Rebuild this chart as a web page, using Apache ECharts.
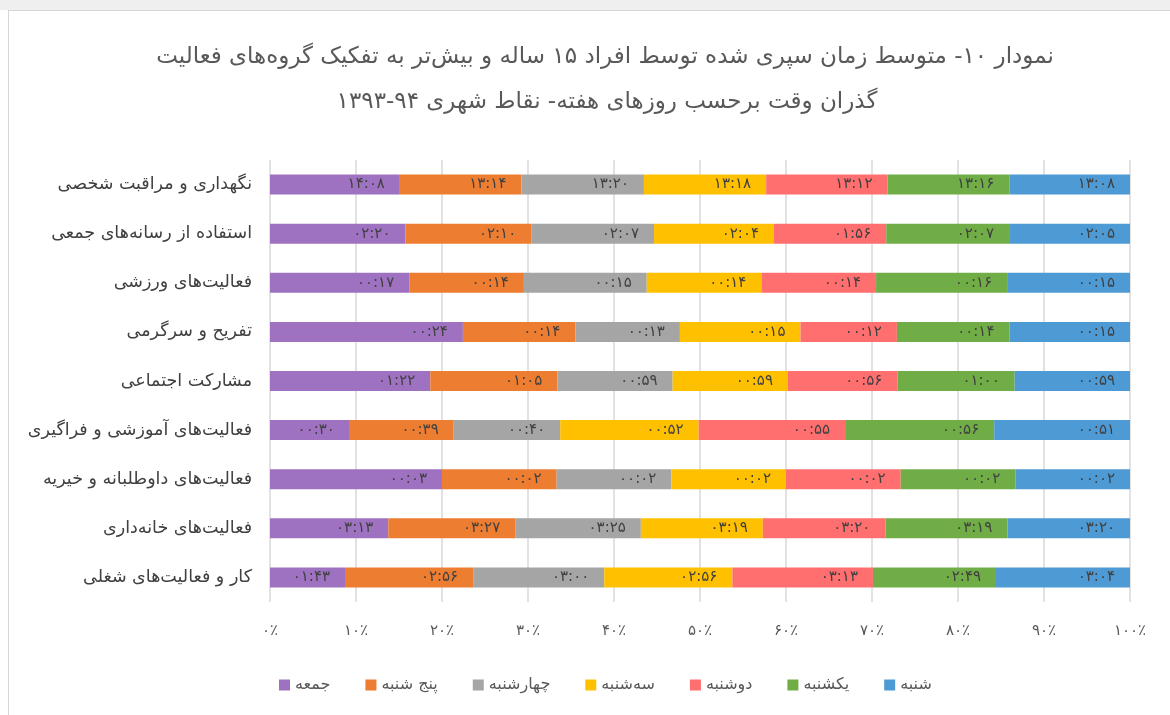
<!DOCTYPE html>
<html>
<head>
<meta charset="utf-8">
<script src="https://cdn.jsdelivr.net/npm/echarts@6/dist/echarts.min.js"></script>
<style>
html,body{margin:0;padding:0;background:#fff;}
#top{position:absolute;left:0;top:0;width:1170px;height:10px;background:#efefef;}
#frame{position:absolute;left:8px;top:10px;width:1170px;height:720px;border-left:1px solid #d6d6d6;border-top:1px solid #d6d6d6;}
#main{position:absolute;left:0;top:0;width:1170px;height:715px;}
</style>
</head>
<body>
<div id="top"></div>
<div id="frame"></div>
<div id="main"></div>
<script>
const categories = [
  'نگهداری و مراقبت شخصی',
  'استفاده از رسانه‌های جمعی',
  'فعالیت‌های ورزشی',
  'تفریح و سرگرمی',
  'مشارکت اجتماعی',
  'فعالیت‌های آموزشی و فراگیری',
  'فعالیت‌های داوطلبانه و خیریه',
  'فعالیت‌های خانه‌داری',
  'کار و فعالیت‌های شغلی'
];
const seriesNames = ['جمعه', 'پنج شنبه', 'چهارشنبه', 'سه‌شنبه', 'دوشنبه', 'یکشنبه', 'شنبه'];
const seriesColors = ['#9e72c0', '#ed7d31', '#a5a5a5', '#ffc000', '#ff6f6f', '#70ad47', '#4e9ad4'];
// times (hh:mm) per series, in category order
const friday    = ['14:08','02:20','00:17','00:24','01:22','00:30','00:03','03:13','01:43'];
const thursday  = ['13:14','02:10','00:14','00:14','01:05','00:39','00:02','03:27','02:56'];
const wednesday = ['13:20','02:07','00:15','00:13','00:59','00:40','00:02','03:25','03:00'];
const tuesday   = ['13:18','02:04','00:14','00:15','00:59','00:52','00:02','03:19','02:56'];
const monday    = ['13:12','01:56','00:14','00:12','00:56','00:55','00:02','03:20','03:13'];
const sunday    = ['13:16','02:07','00:16','00:14','01:00','00:56','00:02','03:19','02:49'];
const saturday  = ['13:08','02:05','00:15','00:15','00:59','00:51','00:02','03:20','03:04'];
const titleLine1 = 'نمودار ۱۰- متوسط زمان سپری شده توسط افراد ۱۵ ساله و بیش‌تر به تفکیک گروه‌های فعالیت';
const titleLine2 = 'گذران وقت برحسب روزهای هفته- نقاط شهری ۹۴-۱۳۹۳';

const allSeries = [friday, thursday, wednesday, tuesday, monday, sunday, saturday];
const toMin = s => { const p = s.split(':'); return (+p[0]) * 60 + (+p[1]); };
const fa = s => String(s).replace(/[0-9]/g, d => '۰۱۲۳۴۵۶۷۸۹'[d]);
const totals = categories.map((c, i) => allSeries.reduce((a, s) => a + toMin(s[i]), 0));

const FONT = 'DejaVu Sans';
const titleStyle = { fontFamily: FONT, fontSize: 23, fontWeight: 'normal', color: '#595959' };
const chart = echarts.init(document.getElementById('main'));
chart.setOption({
  backgroundColor: 'transparent',
  animation: false,
  textStyle: { fontFamily: FONT },
  title: [
    { text: titleLine1, left: 600, textAlign: 'center', top: 41, textStyle: titleStyle },
    { text: titleLine2, left: 602, textAlign: 'center', top: 86, textStyle: titleStyle }
  ],
  legend: {
    bottom: 17, left: 274,
    itemWidth: 11, itemHeight: 11, itemGap: 35,
    icon: 'rect',
    textStyle: { fontFamily: FONT, fontSize: 16, color: '#595959' },
    data: seriesNames
  },
  grid: { left: 270, right: 40, top: 160, bottom: 113, containLabel: false },
  xAxis: {
    type: 'value', min: 0, max: 100, interval: 10,
    axisLine: { show: false }, axisTick: { show: false },
    splitLine: { lineStyle: { color: '#d9d9d9', width: 1.5 } },
    axisLabel: { fontFamily: FONT, fontSize: 15, color: '#595959', margin: 22,
      formatter: v => fa(v) + '٪' }
  },
  yAxis: {
    type: 'category', data: categories, inverse: true,
    axisLine: { show: false }, axisTick: { show: false },
    axisLabel: { fontFamily: FONT, fontSize: 17.5, color: '#404040', margin: 18 }
  },
  series: seriesNames.map((name, k) => ({
    name, type: 'bar', stack: 'total', barWidth: 20,
    itemStyle: { color: seriesColors[k] },
    label: {
      show: true, position: 'insideRight', distance: 15,
      fontFamily: FONT, fontSize: 15, color: '#404040',
      formatter: p => fa(allSeries[k][p.dataIndex])
    },
    data: allSeries[k].map((t, i) => toMin(t) / totals[i] * 100)
  }))
});
</script>
</body>
</html>
